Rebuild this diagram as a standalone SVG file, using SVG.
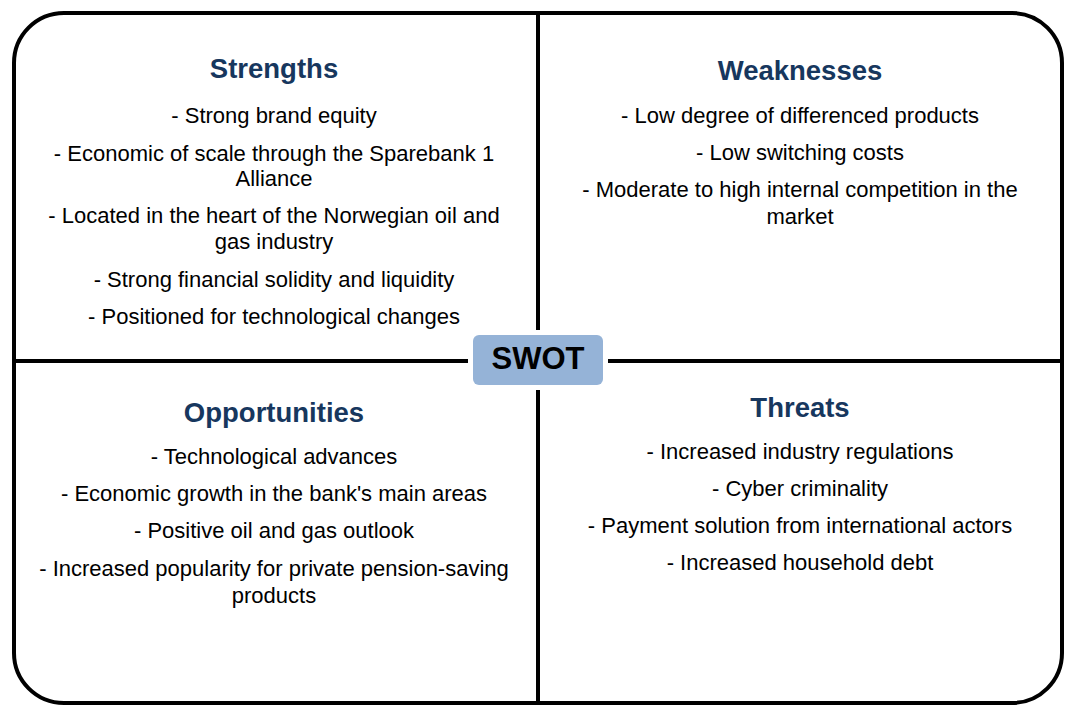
<svg xmlns="http://www.w3.org/2000/svg" width="1066" height="705" viewBox="0 0 1066 705">
<style>
.t{font-family:"Liberation Sans",Arial,sans-serif;font-weight:bold;font-size:27.5px;fill:#17375E;text-anchor:middle}
.b{font-family:"Liberation Sans",Arial,sans-serif;font-size:22px;fill:#000;text-anchor:middle}
.ln{stroke:#000;stroke-width:4;fill:none}
</style>
<rect x="0" y="0" width="1066" height="705" fill="#fff"/>
<g id="frame">
<rect x="14" y="13" width="1048" height="690" rx="50" ry="50" class="ln"/>
</g>
<g id="connectors">
<line x1="14" y1="361" x2="1062" y2="361" class="ln"/>
<line x1="538" y1="13" x2="538" y2="703" class="ln"/>
</g>
<g id="strengths">
<text class="t" x="274" y="78">Strengths</text>
<text class="b" x="274" y="123">- Strong brand equity</text>
<text class="b" x="274" y="161">- Economic of scale through the Sparebank 1</text>
<text class="b" x="274" y="186">Alliance</text>
<text class="b" x="274" y="223">- Located in the heart of the Norwegian oil and</text>
<text class="b" x="274" y="249">gas industry</text>
<text class="b" x="274" y="287">- Strong financial solidity and liquidity</text>
<text class="b" x="274" y="324">- Positioned for technological changes</text>
</g>
<g id="weaknesses">
<text class="t" x="800" y="80">Weaknesses</text>
<text class="b" x="800" y="123">- Low degree of differenced products</text>
<text class="b" x="800" y="160">- Low switching costs</text>
<text class="b" x="800" y="197">- Moderate to high internal competition in the</text>
<text class="b" x="800" y="224">market</text>
</g>
<g id="opportunities">
<text class="t" x="274" y="422">Opportunities</text>
<text class="b" x="274" y="464">- Technological advances</text>
<text class="b" x="274" y="501">- Economic growth in the bank's main areas</text>
<text class="b" x="274" y="538">- Positive oil and gas outlook</text>
<text class="b" x="274" y="576">- Increased popularity for private pension-saving</text>
<text class="b" x="274" y="603">products</text>
</g>
<g id="threats">
<text class="t" x="800" y="417">Threats</text>
<text class="b" x="800" y="459">- Increased industry regulations</text>
<text class="b" x="800" y="496">- Cyber criminality</text>
<text class="b" x="800" y="533">- Payment solution from international actors</text>
<text class="b" x="800" y="570">- Increased household debt</text>
</g>
<g id="swot">
<rect x="468" y="330" width="140" height="60" fill="#fff"/>
<rect x="473" y="335" width="130" height="50" rx="6" ry="6" fill="#95B3D7"/>
<text x="538" y="369" font-family="Liberation Sans,Arial,sans-serif" font-weight="bold" font-size="31" text-anchor="middle" fill="#000">SWOT</text>
</g>
</svg>
